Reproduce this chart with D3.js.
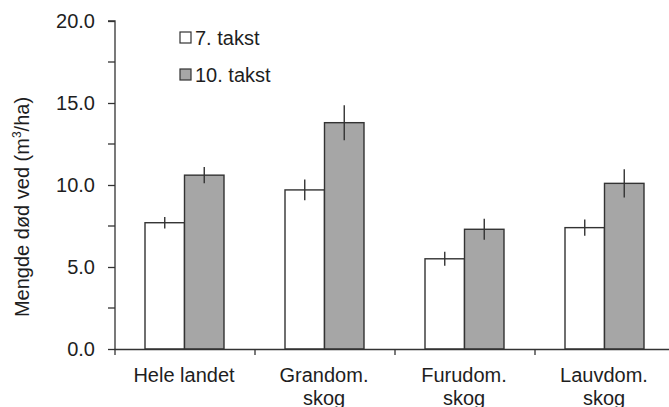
<!DOCTYPE html>
<html><head><meta charset="utf-8">
<script src="https://cdn.jsdelivr.net/npm/d3@7"></script>
<style>body{margin:0;background:#fff}svg{display:block;font-family:"Liberation Sans",Arial,sans-serif}</style>
</head><body><svg id="c" width="669" height="407"></svg>
<script>
const categories = [["Hele landet"], ["Grandom.", "skog"], ["Furudom.", "skog"], ["Lauvdom.", "skog"]];
const seriesNames = ["7. takst", "10. takst"];
const takst7 = [7.7, 9.7, 5.5, 7.4];
const takst10 = [10.6, 13.8, 7.3, 10.1];
const err7 = [0.35, 0.63, 0.43, 0.5];
const err10 = [0.5, 1.07, 0.64, 0.86];
const yTicks = [0, 5, 10, 15, 20];
const yMinorTicks = [2.5, 7.5, 12.5, 17.5];

const svg = d3.select("#c");
const x0 = 114, y0 = 349;
const txt = "#1e1e1e";
const x = d3.scaleBand().domain(d3.range(categories.length)).range([x0, x0 + 560]).paddingInner(0).paddingOuter(0);
const y = d3.scaleLinear().domain([0, 20]).range([y0, 21]);
const sub = d3.scaleBand().domain([0, 1]).range([31, 110]);
const fills = ["#ffffff", "#a6a6a6"];
const ink = "#333";

// y axis
const yAxis = d3.axisLeft(y).tickValues(yTicks).tickFormat(d3.format(".1f")).tickSize(7).tickPadding(13);
const gy = svg.append("g").attr("transform", `translate(${x0+1},0)`).call(yAxis);
gy.select(".domain").attr("stroke", ink).attr("stroke-width", 1.3).attr("d", `M-7,${y(20)}H0V${y0}`);
gy.selectAll(".tick line").attr("stroke", ink).attr("stroke-width", 1.3);
gy.selectAll(".tick text").attr("font-size", 20).attr("fill", txt).attr("font-family", "Liberation Sans, Arial, sans-serif");
gy.selectAll(".minor").data(yMinorTicks).enter().append("line")
  .attr("x1", -7).attr("x2", 0).attr("y1", d => y(d)).attr("y2", d => y(d))
  .attr("stroke", ink).attr("stroke-width", 1.3);

// bars
const groups = svg.append("g").selectAll("g").data(categories).enter().append("g")
  .attr("transform", (d, i) => `translate(${x(i)},0)`);
const series = [takst7, takst10], errs = [err7, err10];
[0, 1].forEach(s => {
  groups.append("rect")
    .attr("x", sub(s)).attr("width", sub.bandwidth())
    .attr("y", (d, i) => y(series[s][i])).attr("height", (d, i) => y0 - y(series[s][i]))
    .attr("fill", fills[s]).attr("stroke", ink).attr("stroke-width", 1.4);
  groups.append("line")
    .attr("x1", sub(s) + sub.bandwidth() / 2).attr("x2", sub(s) + sub.bandwidth() / 2)
    .attr("y1", (d, i) => y(series[s][i] + errs[s][i])).attr("y2", (d, i) => y(series[s][i] - errs[s][i]))
    .attr("stroke", ink).attr("stroke-width", 1.4);
});

// x axis
const xAxis = d3.axisBottom(x).tickValues([]).tickSizeOuter(0);
const gx = svg.append("g").attr("transform", `translate(0,${y0})`).call(xAxis);
gx.select(".domain").attr("stroke", ink).attr("stroke-width", 1.3);
gx.selectAll(".ct").data(d3.range(categories.length)).enter().append("line")
  .attr("x1", d => x(d) + 1).attr("x2", d => x(d) + 1).attr("y1", 0).attr("y2", 6)
  .attr("stroke", ink).attr("stroke-width", 1.3);
const labels = gx.selectAll(".cl").data(categories).enter().append("text")
  .attr("x", (d, i) => x(i) + x.bandwidth() / 2).attr("y", 33)
  .attr("text-anchor", "middle").attr("font-size", 20).attr("fill", txt);
labels.selectAll("tspan").data(d => d).enter().append("tspan")
  .attr("x", function() { return d3.select(this.parentNode).attr("x"); })
  .attr("dy", (d, j) => j === 0 ? 0 : 23).text(d => d);

// y title
const yt = svg.append("text").attr("transform", "translate(29,207) rotate(-90)")
  .attr("text-anchor", "middle").attr("font-size", 20).attr("fill", txt);
yt.append("tspan").text("Mengde død ved (m");
yt.append("tspan").attr("font-size", 12).attr("dy", -8).text("3");
yt.append("tspan").attr("dy", 8).text("/ha)");

// legend
const lg = svg.append("g").selectAll("g").data(seriesNames).enter().append("g")
  .attr("transform", (d, i) => `translate(180,${32 + i * 37})`);
lg.append("rect").attr("width", 11).attr("height", 11).attr("fill", (d, i) => fills[i])
  .attr("stroke", ink).attr("stroke-width", 1.2);
lg.append("text").attr("x", 15).attr("y", 13).attr("font-size", 20).attr("fill", txt).text(d => d);
</script></body></html>
